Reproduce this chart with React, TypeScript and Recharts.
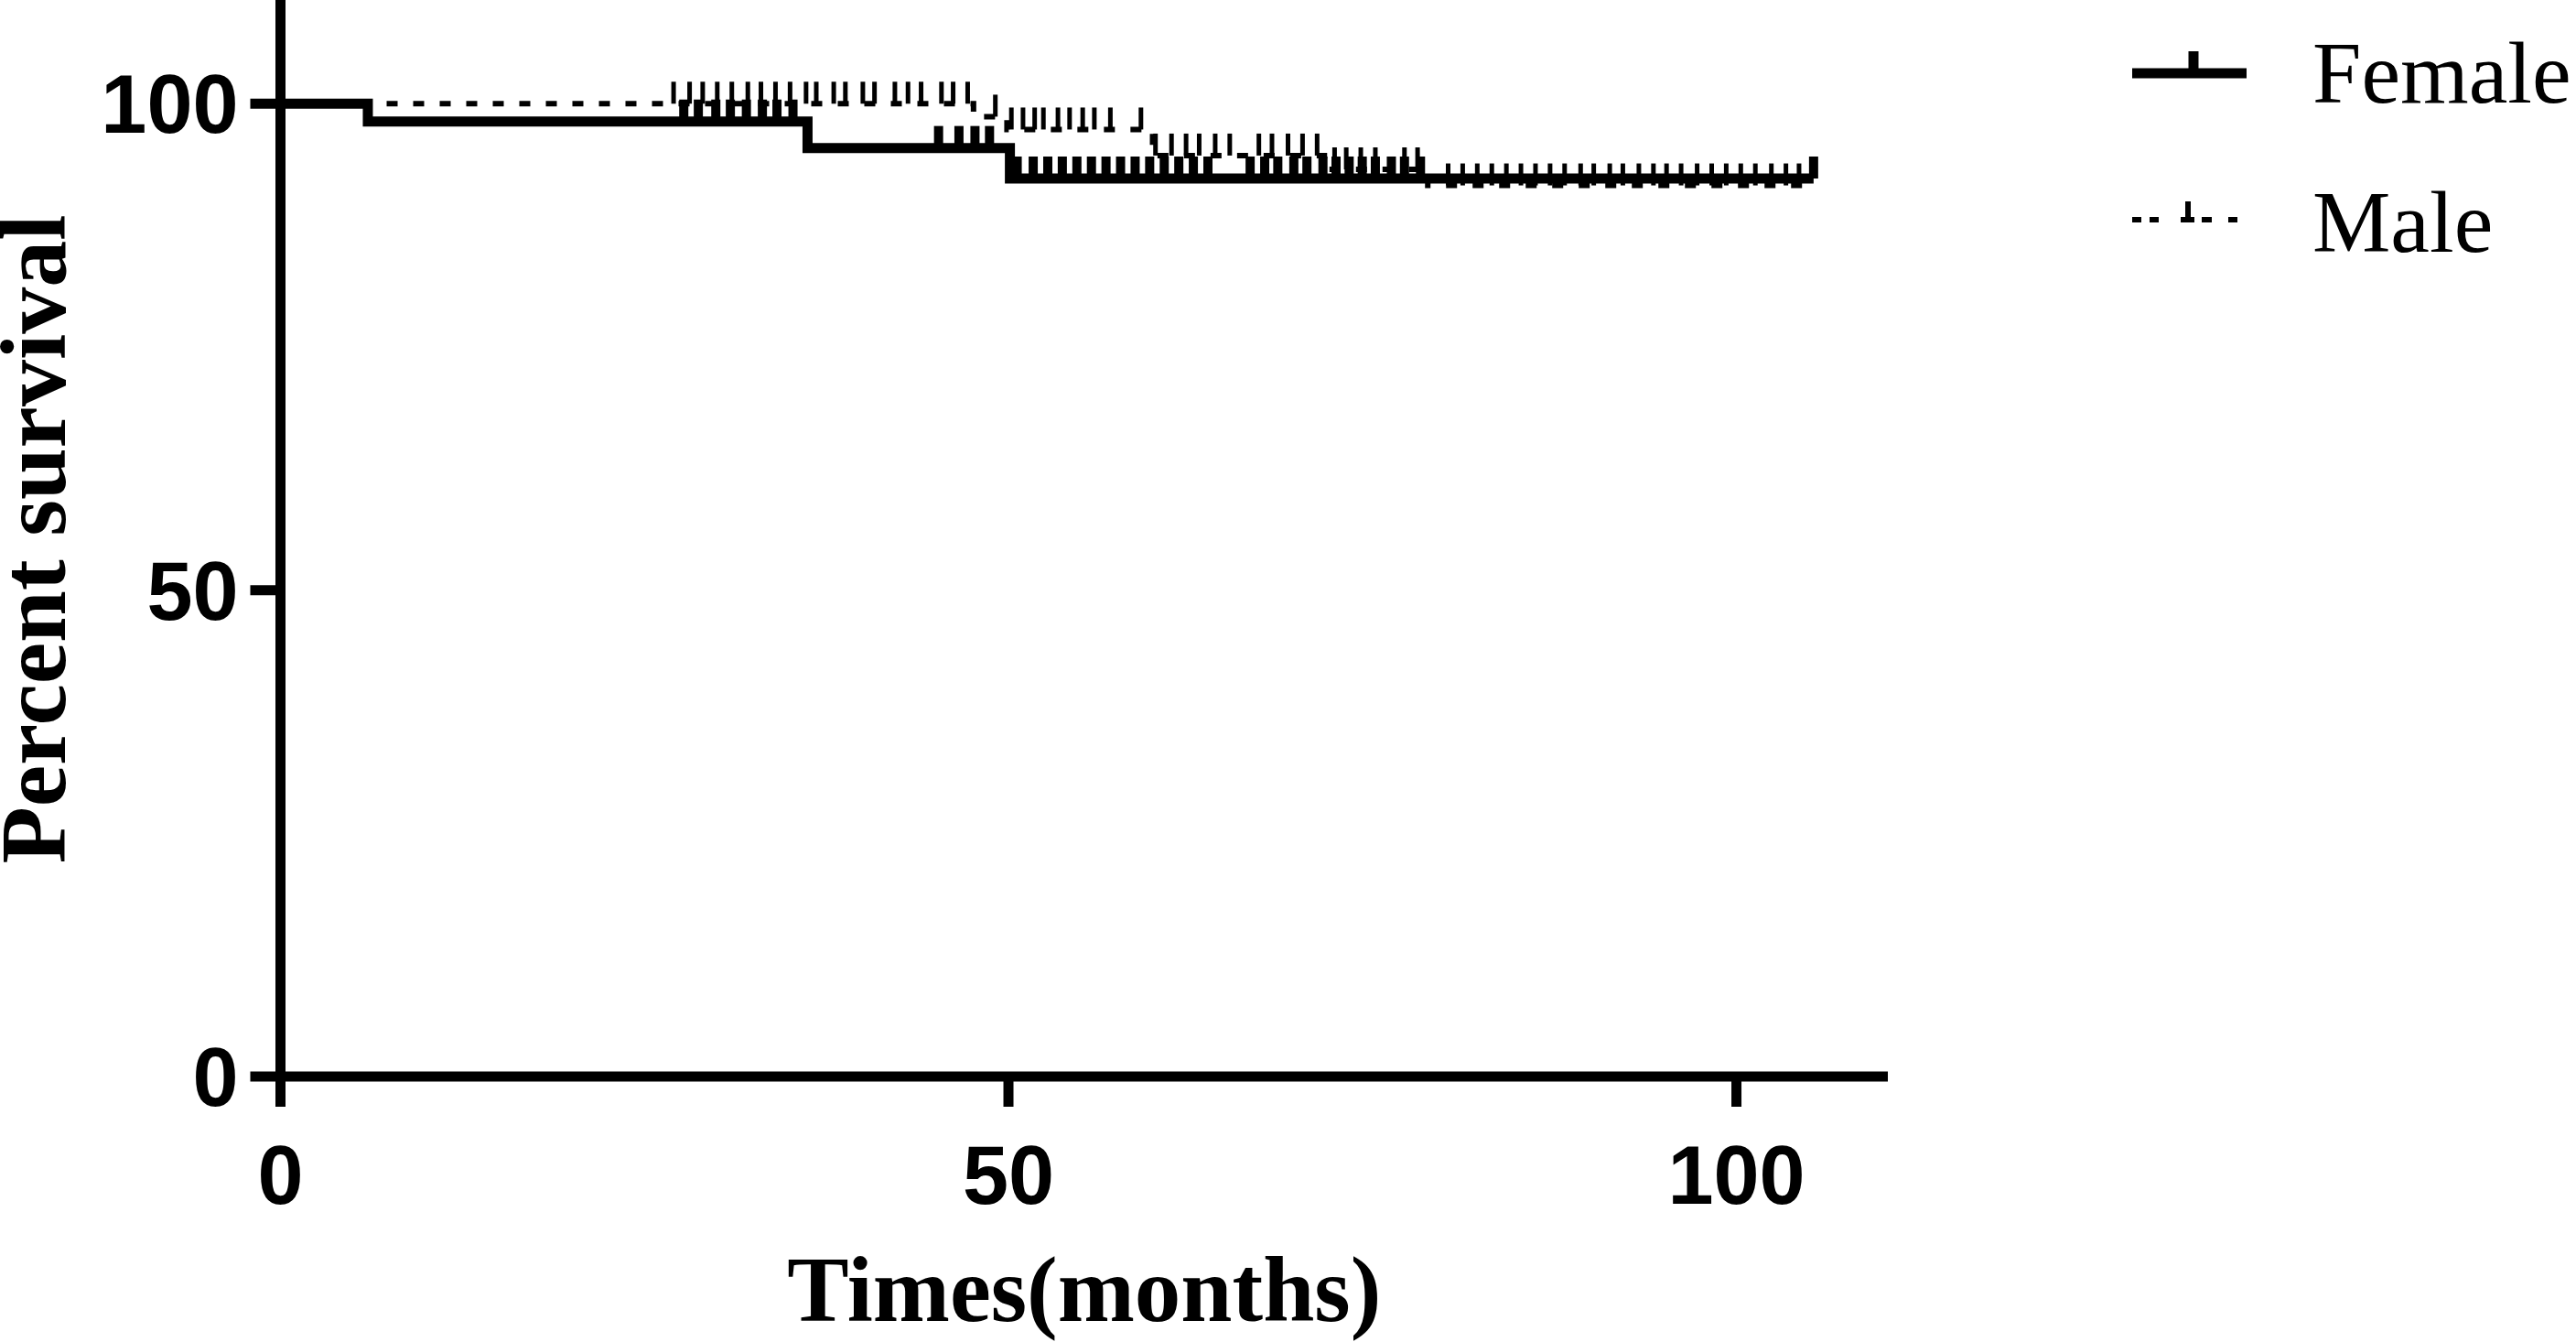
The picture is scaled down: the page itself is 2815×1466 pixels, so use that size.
import React from 'react';
import { ComposedChart, Line, Scatter, XAxis, YAxis, Legend, Label } from 'recharts';

// ---- data ----
const seriesNames = ['Female', 'Male'];

const femaleStepTimes = [0, 6.0, 36.2, 50.1, 105.3];
const femaleStepSurvival = [100, 98.17, 95.45, 92.31, 92.31];

const maleStepTimes = [0, 47.6, 49.9, 59.9, 71.7, 78.8, 104.7];
const maleStepSurvival = [100, 98.67, 97.35, 94.67, 93.25, 91.6, 91.6];

const femaleCensorTimes = [
  27.7, 28.7, 29.9, 30.9, 32.0, 33.1, 34.1, 35.2,
  45.2, 46.6, 47.7, 48.7,
  50.6, 51.7, 52.7, 53.7, 54.7, 55.7, 56.7, 57.7, 58.7, 59.7, 60.7, 61.7, 62.7, 63.7,
  66.6, 67.6, 68.5, 69.6, 70.5, 71.6, 72.5, 73.4, 74.3, 75.2, 76.3, 77.2, 78.3,
  105.3,
];

const maleCensorTimes = [
  27.0, 28.1, 29.0, 30.0, 31.0, 32.1, 33.0, 34.0, 35.0, 36.1, 36.8, 38.0, 38.8, 40.0, 40.8,
  42.2, 43.1, 44.0, 45.4, 46.2, 47.2,
  49.1,
  50.2, 51.0, 51.8, 52.4, 53.4, 54.2, 55.1, 55.9, 57.0, 59.1,
  60.1, 61.2, 62.2, 63.1, 64.2, 65.2, 67.2, 68.1, 69.2, 70.2, 71.2,
  72.4, 73.2, 74.2, 75.2, 77.2, 78.1,
  80.2, 81.2, 82.2, 83.2, 84.2, 85.2, 86.2, 87.2, 88.2, 89.3, 90.2, 91.3, 92.2, 93.3,
  94.3, 95.2, 96.2, 97.3, 98.3, 99.3, 100.3, 101.3, 102.4, 103.4, 104.3,
];

const xTicks = [0, 50, 100];
const yTicks = [0, 50, 100];
const xDomain = [0, 110.4];
const yDomain = [0, 110.66];

// ---- helpers (lookups only) ----
function survivalAt(times: number[], surv: number[], t: number) {
  let s = surv[0];
  for (let i = 0; i < times.length; i++) {
    if (times[i] <= t) s = surv[i];
  }
  return s;
}
const toSteps = (times: number[], surv: number[]) => times.map((t, i) => ({ t, s: surv[i] }));
const toCensor = (cens: number[], times: number[], surv: number[]) =>
  cens.map((t) => ({ t, s: survivalAt(times, surv, t) }));

const femaleSteps = toSteps(femaleStepTimes, femaleStepSurvival);
const maleSteps = toSteps(maleStepTimes, maleStepSurvival);
const femaleCensor = toCensor(femaleCensorTimes, femaleStepTimes, femaleStepSurvival);
const maleCensor = toCensor(maleCensorTimes, maleStepTimes, maleStepSurvival);

const TICK_LEN = 24;

const FemaleTick = (p: any) => (
  <line x1={p.cx} x2={p.cx} y1={p.cy} y2={p.cy - TICK_LEN} stroke="#000" strokeWidth={10} />
);
const MaleTick = (p: any) => (
  <line x1={p.cx} x2={p.cx} y1={p.cy} y2={p.cy - TICK_LEN} stroke="#000" strokeWidth={5} />
);

const YTitle = (props: any) => {
  const vb = props.viewBox || {};
  const cy = (vb.y ?? 0) + (vb.height ?? 1176) / 2 + 1;
  const x = 71;
  return (
    <text
      x={x}
      y={cy}
      transform={`rotate(-90 ${x} ${cy})`}
      textAnchor="middle"
      fill="#000"
      fontFamily="'Liberation Serif', 'Times New Roman', serif"
      fontWeight={700}
      fontSize={102}
    >
      Percent survival
    </text>
  );
};

const renderLegend = () => (
  <svg width={495} height={320} style={{ display: 'block', overflow: 'visible' }}>
    {/* Female */}
    <line x1={10} x2={135} y1={80} y2={80} stroke="#000" strokeWidth={11} />
    <line x1={77} x2={77} y1={80} y2={56} stroke="#000" strokeWidth={11} />
    <text x={207} y={112} fill="#000" fontFamily="'Liberation Serif', 'Times New Roman', serif" fontSize={96}>
      {seriesNames[0]}
    </text>
    {/* Male */}
    <line x1={10} x2={20} y1={240} y2={240} stroke="#000" strokeWidth={6} />
    <line x1={29} x2={39} y1={240} y2={240} stroke="#000" strokeWidth={6} />
    <line x1={63} x2={78} y1={240} y2={240} stroke="#000" strokeWidth={6} />
    <line x1={71} x2={71} y1={240} y2={220} stroke="#000" strokeWidth={6} />
    <line x1={86} x2={97} y1={240} y2={240} stroke="#000" strokeWidth={6} />
    <line x1={115} x2={125} y1={240} y2={240} stroke="#000" strokeWidth={6} />
    <text x={207} y={275} fill="#000" fontFamily="'Liberation Serif', 'Times New Roman', serif" fontSize={96}>
      {seriesNames[1]}
    </text>
  </svg>
);

const tickStyle = {
  fill: '#000',
  fontSize: 90,
  fontWeight: 700,
  fontFamily: "'Liberation Sans', Arial, sans-serif",
};

export default function App() {
  return (
    <div style={{ position: 'absolute', left: 0, top: 0, width: 2815, height: 1466, background: '#fff' }}>
      <ComposedChart width={2815} height={1466} margin={{ top: 0, right: 752, bottom: 0, left: 0 }}>
        <XAxis
          type="number"
          dataKey="t"
          domain={xDomain}
          allowDataOverflow
          ticks={xTicks}
          height={290}
          axisLine={{ stroke: '#000', strokeWidth: 11 }}
          tickLine={{ stroke: '#000', strokeWidth: 11 }}
          tickSize={33}
          tickMargin={42}
          tick={tickStyle}
        >
          <Label
            value="Times(months)"
            position="insideBottom"
            offset={23}
            style={{
              fill: '#000',
              fontSize: 101,
              fontWeight: 700,
              fontFamily: "'Liberation Serif', 'Times New Roman', serif",
            }}
          />
        </XAxis>
        <YAxis
          type="number"
          domain={yDomain}
          allowDataOverflow
          ticks={yTicks}
          width={306.5}
          axisLine={{ stroke: '#000', strokeWidth: 11 }}
          tickLine={{ stroke: '#000', strokeWidth: 11 }}
          tickSize={33}
          tickMargin={13}
          tick={tickStyle}
        >
          <Label content={YTitle} />
        </YAxis>
        <Legend
          layout="vertical"
          align="center"
          verticalAlign="middle"
          content={renderLegend}
          wrapperStyle={{ position: 'absolute', left: 2320, top: 0, width: 495, height: 320 }}
        />
        <Line
          name={seriesNames[0]}
          data={femaleSteps}
          dataKey="s"
          type="stepAfter"
          stroke="#000"
          strokeWidth={11}
          dot={false}
          activeDot={false}
          isAnimationActive={false}
        />
        <Line
          name={seriesNames[1]}
          data={maleSteps}
          dataKey="s"
          type="stepAfter"
          stroke="#000"
          strokeWidth={6}
          strokeDasharray="12 17"
          dot={false}
          activeDot={false}
          isAnimationActive={false}
        />
        <Scatter
          name={seriesNames[0] + ' censored'}
          data={femaleCensor}
          dataKey="s"
          shape={FemaleTick}
          legendType="none"
          isAnimationActive={false}
        />
        <Scatter
          name={seriesNames[1] + ' censored'}
          data={maleCensor}
          dataKey="s"
          shape={MaleTick}
          legendType="none"
          isAnimationActive={false}
        />
      </ComposedChart>
    </div>
  );
}
